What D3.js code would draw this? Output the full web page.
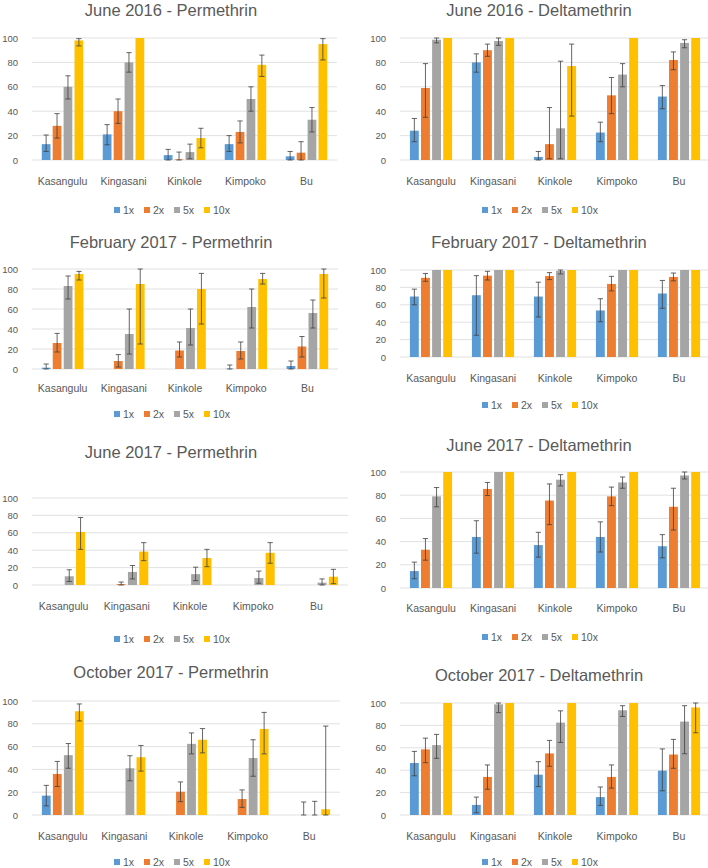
<!DOCTYPE html>
<html>
<head>
<meta charset="utf-8">
<script src="https://cdn.jsdelivr.net/npm/d3@7"></script>
<style>
  body { margin: 0; background: #fff; }
  svg text { font-family: "Liberation Sans", Arial, sans-serif; fill: #595959; }
</style>
</head>
<body>
<svg id="chart" width="708" height="868"></svg>
<script>
// sites and doses shared by every panel
const sites = ['Kasangulu', 'Kingasani', 'Kinkole', 'Kimpoko', 'Bu'];
const doses = ['1x', '2x', '5x', '10x'];
const yTicks = [0, 20, 40, 60, 80, 100];

// mortality (%) per site, rows = sites, cols = doses; lo / hi = error bar ends
const jun16PerMean = [[13, 28, 60, 98], [21, 40, 80, 100], [4, 0.5, 6.5, 18], [13, 23, 50, 78], [3, 6, 33, 95]];
const jun16PerLo = [[7, 18, 50, 93.5], [12.5, 30, 72, 100], [0, 0, 1, 10], [7, 14, 40, 68.5], [0, 0, 23, 82]];
const jun16PerHi = [[20.5, 38, 69, 99.5], [29, 50, 88, 100], [8.7, 6.5, 13, 26], [20, 32, 60, 86], [7, 15, 43, 99.5]];

const jun16DelMean = [[24, 59, 98.6, 100], [80, 90, 97.5, 100], [2.5, 13, 26, 77], [22.5, 53, 70, 100], [52, 82, 96, 100]];
const jun16DelLo = [[15, 35, 96, 100], [72, 85, 94, 100], [0, 1, 1, 36], [15, 38, 60, 100], [42, 74, 92, 100]];
const jun16DelHi = [[34, 79, 100, 100], [87, 95, 100, 100], [7, 43, 81, 95], [31, 67.6, 79, 100], [61, 88.6, 98.6, 100]];

const feb17PerMean = [[1.3, 26, 83, 95], [0, 8, 35, 85], [0, 18.5, 41, 80], [0.3, 18, 62, 90], [3, 22.5, 56, 95]];
const feb17PerLo = [[0, 17, 70, 89], [0, 2, 15, 25], [0, 12, 24, 45], [0, 10, 41, 85], [0, 12, 41, 71]];
const feb17PerHi = [[5, 35.6, 93, 97.6], [0, 14.4, 60, 100], [0, 27, 60, 95.6], [4, 27, 80, 95.6], [8, 32.5, 69, 100]];

const feb17DelMean = [[69.5, 91, 100, 100], [71, 93.5, 100, 100], [69.5, 93, 99, 100], [53.5, 84, 100, 100], [73, 92, 100, 100]];
const feb17DelLo = [[60, 87, 100, 100], [25, 88.5, 100, 100], [46, 89, 95.5, 100], [40.5, 76, 100, 100], [56, 87.5, 100, 100]];
const feb17DelHi = [[78, 96, 100, 100], [93.5, 98.5, 100, 100], [86, 97, 100, 100], [67, 92.7, 100, 100], [88, 96.5, 100, 100]];

const jun17PerMean = [[0, 0, 10, 61], [0, 1, 15, 38.4], [0, 0, 12.5, 31], [0, 0, 8, 37], [0, 0, 2.7, 9.5]];
const jun17PerLo = [[0, 0, 4, 41], [0, 0, 7, 28], [0, 0, 5, 21], [0, 0, 2, 25], [0, 0, 0, 1.5]];
const jun17PerHi = [[0, 0, 17.5, 77.6], [0, 3.4, 22.4, 48.7], [0, 0, 20.5, 41], [0, 0, 16, 48.7], [0, 0, 7, 18]];

const jun17DelMean = [[14.6, 33, 79, 100], [44, 85.4, 100, 100], [37, 75.4, 93.4, 100], [44, 79, 91, 100], [36, 70, 97, 100]];
const jun17DelLo = [[8, 24, 70, 100], [30, 79.7, 100, 100], [26.6, 54.6, 88, 100], [31, 71, 86, 100], [26, 50, 94, 100]];
const jun17DelHi = [[22.3, 42.6, 86.6, 100], [58, 91, 100, 100], [48, 89.7, 97.7, 100], [57, 87, 95.7, 100], [46, 86, 100, 100]];

const oct17PerMean = [[17, 36, 52.5, 91], [0, 0, 41, 50.7], [0, 20.4, 62.4, 66], [0, 14, 50, 75.5], [0, 0, 0, 5]];
const oct17PerLo = [[8, 25, 41, 82.5], [0, 0, 30, 38.5], [0, 11.7, 53.6, 54.5], [0, 6.7, 34, 53.6], [0, 0, 0, 0]];
const oct17PerHi = [[26, 47, 62.7, 97.4], [0, 0, 52, 61], [0, 29, 72, 75.8], [0, 22, 66, 90], [0, 11.4, 12, 78]];

const oct17DelMean = [[46.4, 58.6, 62.4, 100], [9, 34, 98.8, 100], [36, 55, 82.5, 100], [16, 34, 93.5, 100], [39.6, 54, 83.4, 96]];
const oct17DelLo = [[35, 46.7, 50.6, 100], [2, 23, 91.4, 100], [25.4, 43.5, 64.8, 100], [8.6, 24, 88, 100], [21.6, 41.7, 54.7, 73.4]];
const oct17DelHi = [[56.8, 68.6, 72, 100], [16, 44.7, 100, 100], [47.6, 66.6, 93, 100], [25, 44.7, 97.6, 100], [59, 67.5, 97.6, 100]];

const panels = [
  { title: 'June 2016 - Permethrin', mean: jun16PerMean, lo: jun16PerLo, hi: jun16PerHi },
  { title: 'June 2016 - Deltamethrin', mean: jun16DelMean, lo: jun16DelLo, hi: jun16DelHi },
  { title: 'February 2017 - Permethrin', mean: feb17PerMean, lo: feb17PerLo, hi: feb17PerHi },
  { title: 'February 2017 - Deltamethrin', mean: feb17DelMean, lo: feb17DelLo, hi: feb17DelHi },
  { title: 'June 2017 - Permethrin', mean: jun17PerMean, lo: jun17PerLo, hi: jun17PerHi },
  { title: 'June 2017 - Deltamethrin', mean: jun17DelMean, lo: jun17DelLo, hi: jun17DelHi },
  { title: 'October 2017 - Permethrin', mean: oct17PerMean, lo: oct17PerLo, hi: oct17PerHi },
  { title: 'October 2017 - Deltamethrin', mean: oct17DelMean, lo: oct17DelLo, hi: oct17DelHi }
];

// where each panel sits on the page
const layout = [
  { x0: 32, x1: 337, yTop: 38, yBot: 160, cx: 171, titleY: 10, catY: 181, legY: 210 },
  { x0: 400, x1: 710, yTop: 38, yBot: 160, cx: 539, titleY: 10, catY: 181, legY: 210 },
  { x0: 32, x1: 338, yTop: 269, yBot: 369, cx: 171, titleY: 242, catY: 388, legY: 414 },
  { x0: 400, x1: 710, yTop: 270, yBot: 357, cx: 539, titleY: 242, catY: 378, legY: 405 },
  { x0: 32, x1: 348, yTop: 498, yBot: 585, cx: 171, titleY: 452, catY: 606, legY: 639 },
  { x0: 400, x1: 710, yTop: 472, yBot: 588, cx: 539, titleY: 445, catY: 608, legY: 637 },
  { x0: 32, x1: 340, yTop: 701, yBot: 815, cx: 171, titleY: 672, catY: 836, legY: 862 },
  { x0: 400, x1: 710, yTop: 703, yBot: 815, cx: 539, titleY: 675, catY: 836, legY: 862 }
];

const color = d3.scaleOrdinal().domain(doses).range(['#5B9BD5', '#ED7D31', '#A5A5A5', '#FFC000']);

const svg = d3.select('#chart');

panels.forEach((p, i) => {
  const L = layout[i];
  const g = svg.append('g');

  const x = d3.scaleBand().domain(sites).range([L.x0, L.x1]).paddingInner(0.32).paddingOuter(0.16);
  const xs = d3.scaleBand().domain(doses).range([0, x.bandwidth()]).paddingInner(0.2);
  const y = d3.scaleLinear().domain([0, 100]).range([L.yBot, L.yTop]);

  // title
  g.append('text')
    .attr('x', L.cx)
    .attr('y', L.titleY)
    .attr('dy', '0.35em')
    .attr('text-anchor', 'middle')
    .attr('font-size', '16.5px')
    .text(p.title);

  // gridlines
  g.selectAll('.grid')
    .data(yTicks)
    .join('line')
    .attr('x1', L.x0)
    .attr('x2', L.x1)
    .attr('y1', d => y(d))
    .attr('y2', d => y(d))
    .attr('stroke', '#D9D9D9')
    .attr('stroke-width', 0.8);

  // y axis labels
  const yAxis = d3.axisLeft(y).tickValues(yTicks).tickSize(0).tickPadding(14);
  const ya = g.append('g').attr('transform', `translate(${L.x0},0)`).call(yAxis);
  ya.select('.domain').remove();
  ya.selectAll('text').attr('font-size', '9.5px').attr('fill', '#595959')
    .attr('font-family', '"Liberation Sans", Arial, sans-serif');

  // category labels
  const xAxis = d3.axisBottom(x).tickSize(0).tickPadding(0);
  const xa = g.append('g').attr('transform', `translate(0,${L.catY})`).call(xAxis);
  xa.select('.domain').remove();
  xa.selectAll('text').attr('dy', '0.35em').attr('font-size', '10.5px').attr('fill', '#595959')
    .attr('font-family', '"Liberation Sans", Arial, sans-serif');

  // flatten into bar records
  const recs = [];
  sites.forEach((s, si) => {
    doses.forEach((d, di) => {
      recs.push({ site: s, dose: d, v: p.mean[si][di], lo: p.lo[si][di], hi: p.hi[si][di] });
    });
  });

  const bx = d => x(d.site) + xs(d.dose);

  g.selectAll('.bar')
    .data(recs.filter(d => d.v > 0))
    .join('rect')
    .attr('x', bx)
    .attr('y', d => y(d.v))
    .attr('width', xs.bandwidth())
    .attr('height', d => y(0) - y(d.v))
    .attr('fill', d => color(d.dose));

  // error bars
  const errs = recs.filter(d => d.hi - d.lo > 0.01);
  const eg = g.selectAll('.err').data(errs).join('g')
    .attr('stroke', '#404040').attr('stroke-width', 0.8);
  const cap = 2.6;
  eg.append('line')
    .attr('x1', d => bx(d) + xs.bandwidth() / 2)
    .attr('x2', d => bx(d) + xs.bandwidth() / 2)
    .attr('y1', d => y(d.lo))
    .attr('y2', d => y(d.hi));
  eg.append('line')
    .attr('x1', d => bx(d) + xs.bandwidth() / 2 - cap)
    .attr('x2', d => bx(d) + xs.bandwidth() / 2 + cap)
    .attr('y1', d => y(d.hi))
    .attr('y2', d => y(d.hi));
  eg.append('line')
    .attr('x1', d => bx(d) + xs.bandwidth() / 2 - cap)
    .attr('x2', d => bx(d) + xs.bandwidth() / 2 + cap)
    .attr('y1', d => y(d.lo))
    .attr('y2', d => y(d.lo));

  // legend
  const itemW = 30;
  const lg = g.append('g')
    .attr('transform', `translate(${L.cx - (itemW * doses.length - 6) / 2},${L.legY})`);
  const li = lg.selectAll('g').data(doses).join('g')
    .attr('transform', (d, k) => `translate(${k * itemW},0)`);
  li.append('rect')
    .attr('x', 0).attr('y', -3).attr('width', 6).attr('height', 6)
    .attr('fill', d => color(d));
  li.append('text')
    .attr('x', 9).attr('dy', '0.35em')
    .attr('font-size', '10.5px')
    .text(d => d);
});
</script>
</body>
</html>
